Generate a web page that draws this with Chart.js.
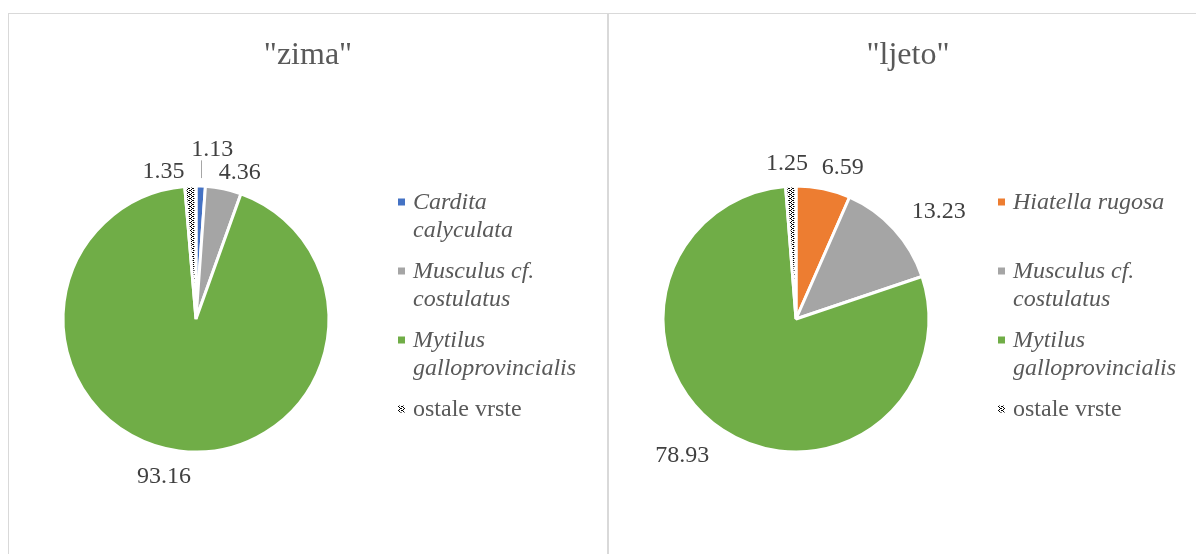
<!DOCTYPE html>
<html>
<head>
<meta charset="utf-8">
<script src="https://cdn.jsdelivr.net/npm/chart.js@4.4.1/dist/chart.umd.min.js"></script>
<style>
  html, body { margin: 0; padding: 0; background: #fff; overflow: hidden; }
  .panel {
    position: absolute; top: 13px; width: 600px; height: 560px;
    box-sizing: border-box; border: 1px solid #d9d9d9; border-bottom: none;
  }
  #zimaPanel { left: 8px; }
  #ljetoPanel { left: 608px; }
  canvas { display: block; }
</style>
</head>
<body>
<div class="panel" id="zimaPanel"><canvas id="zima" width="598" height="540"></canvas></div>
<div class="panel" id="ljetoPanel"><canvas id="ljeto" width="598" height="540"></canvas></div>
<script>
// --- data ---
const zimaSpecies = ['Cardita calyculata', 'Musculus cf. costulatus', 'Mytilus galloprovincialis', 'ostale vrste'];
const zimaValues = [1.13, 4.36, 93.16, 1.35];

const ljetoSpecies = ['Hiatella rugosa', 'Musculus cf. costulatus', 'Mytilus galloprovincialis', 'ostale vrste'];
const ljetoValues = [6.59, 13.23, 78.93, 1.25];

// labels that are not species names (drawn upright, not italic)
const romanLabels = ['ostale vrste'];

// label nudges away from the default "outside end" spot, like Excel does
const zimaNudges = [[11, -19], [12, 4], [-12, 6], [-26, 3]];
const zimaLeaders = [true, false, false, false];
const ljetoNudges = [[15, -1], [20, 5], [-24, 1], [-3, -5]];
const ljetoLeaders = [false, false, false, false];

const FONT = "'Liberation Serif', 'Times New Roman', serif";

// dotted pattern for "ostale vrste"
function dotPattern() {
  const c = document.createElement('canvas');
  c.width = 4; c.height = 4;
  const g = c.getContext('2d');
  g.fillStyle = '#fff';
  g.fillRect(0, 0, 4, 4);
  g.fillStyle = '#000';
  [[0, 0], [2, 1], [0, 2], [2, 3], [1, 0], [3, 2]].forEach(p => g.fillRect(p[0], p[1], 1, 1));
  return g.createPattern(c, 'repeat');
}

const colorMap = {
  'Cardita calyculata': '#4472C4',
  'Hiatella rugosa': '#ED7D31',
  'Musculus cf. costulatus': '#A5A5A5',
  'Mytilus galloprovincialis': '#70AD47',
  'ostale vrste': dotPattern()
};

function wrapText(ctx, text, maxW) {
  const words = text.split(' ');
  const lines = [];
  let cur = '';
  words.forEach(w => {
    const test = cur ? cur + ' ' + w : w;
    if (cur && ctx.measureText(test).width > maxW) {
      lines.push(cur);
      cur = w;
    } else {
      cur = test;
    }
  });
  if (cur) lines.push(cur);
  return lines;
}

function makePie(id, title, species, values, nudges, leaders) {
  const colors = species.map(s => colorMap[s]);

  const titlePlugin = {
    id: 'pieTitle',
    afterDraw(chart) {
      const ctx = chart.ctx;
      ctx.save();
      ctx.font = '32px ' + FONT;
      ctx.fillStyle = '#595959';
      ctx.textAlign = 'center';
      ctx.textBaseline = 'alphabetic';
      ctx.fillText(title, chart.width / 2, 50);
      ctx.restore();
    }
  };

  const legendPlugin = {
    id: 'sideLegend',
    afterDraw(chart) {
      const ctx = chart.ctx;
      const x0 = 389, y0 = 189, slot = 69, lineH = 28;
      ctx.save();
      ctx.textAlign = 'left';
      ctx.textBaseline = 'middle';
      chart.data.labels.forEach((name, i) => {
        const yy = y0 + i * slot;
        const italic = !romanLabels.includes(name);
        ctx.font = (italic ? 'italic ' : '') + '24px ' + FONT;
        ctx.fillStyle = colors[i];
        ctx.fillRect(x0, yy - 4.5, 7, 7);
        ctx.fillStyle = '#595959';
        wrapText(ctx, name, 170).forEach((ln, j) => ctx.fillText(ln, x0 + 15, yy + j * lineH));
      });
      ctx.restore();
    }
  };

  const labelPlugin = {
    id: 'outsideLabels',
    afterDatasetsDraw(chart) {
      const ctx = chart.ctx;
      const meta = chart.getDatasetMeta(0);
      ctx.save();
      ctx.font = '24px ' + FONT;
      ctx.textAlign = 'center';
      ctx.textBaseline = 'middle';
      meta.data.forEach((arc, i) => {
        const p = arc.getProps(['x', 'y', 'startAngle', 'endAngle', 'outerRadius'], true);
        const mid = (p.startAngle + p.endAngle) / 2;
        const ux = Math.cos(mid), uy = Math.sin(mid);
        const text = values[i].toFixed(2);
        const w = ctx.measureText(text).width, h = 22;
        const dist = p.outerRadius + 6 + (w / 2) * Math.abs(ux) + (h / 2) * Math.abs(uy);
        const lx = p.x + ux * dist + nudges[i][0];
        const ly = p.y + uy * dist + nudges[i][1];
        if (leaders[i]) {
          const ax = p.x + ux * (p.outerRadius + 8);
          const ay = p.y + uy * (p.outerRadius + 8);
          const bx = Math.min(Math.max(ax, lx - w / 2), lx + w / 2);
          const by = Math.min(Math.max(ay, ly - h / 2), ly + h / 2);
          ctx.strokeStyle = '#a6a6a6';
          ctx.lineWidth = 1;
          ctx.beginPath();
          ctx.moveTo(Math.round(ax) + 0.5, ay);
          ctx.lineTo(Math.round(bx) + 0.5, by);
          ctx.stroke();
        }
        ctx.fillStyle = '#404040';
        ctx.fillText(text, lx, ly);
      });
      ctx.restore();
    }
  };

  return new Chart(document.getElementById(id), {
    type: 'pie',
    data: {
      labels: species,
      datasets: [{
        data: values,
        backgroundColor: colors,
        borderColor: '#ffffff',
        borderWidth: 3,
        radius: 133
      }]
    },
    options: {
      responsive: false,
      animation: false,
      events: [],
      layout: { padding: { left: 54, right: 278, top: 172, bottom: 102 } },
      plugins: {
        legend: { display: false },
        tooltip: { enabled: false },
        title: { display: false }
      }
    },
    plugins: [titlePlugin, legendPlugin, labelPlugin]
  });
}

makePie('zima', '"zima"', zimaSpecies, zimaValues, zimaNudges, zimaLeaders);
makePie('ljeto', '"ljeto"', ljetoSpecies, ljetoValues, ljetoNudges, ljetoLeaders);
</script>
</body>
</html>
